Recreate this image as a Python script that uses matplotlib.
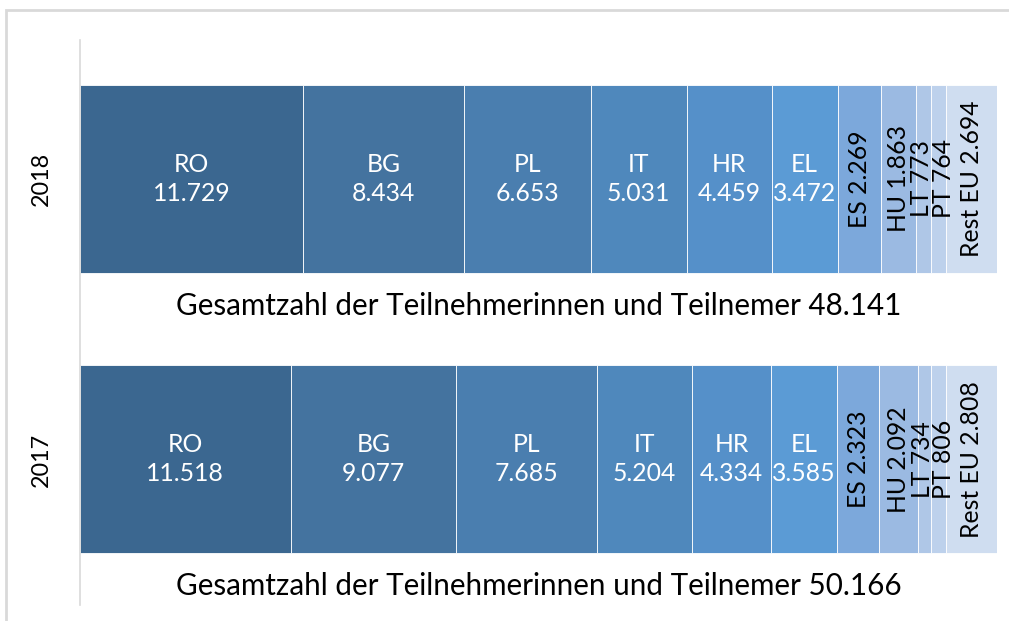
import matplotlib
matplotlib.use("Agg")
import matplotlib.pyplot as plt
from matplotlib.patches import Rectangle
from matplotlib.transforms import offset_copy

years = ["2017", "2018"]
countries = ["RO", "BG", "PL", "IT", "HR", "EL", "ES", "HU", "LT", "PT", "Rest EU"]
values_2017 = [11518, 9077, 7685, 5204, 4334, 3585, 2323, 2092, 734, 806, 2808]
values_2018 = [11729, 8434, 6653, 5031, 4459, 3472, 2269, 1863, 773, 764, 2694]
value_labels_2017 = ["11.518", "9.077", "7.685", "5.204", "4.334", "3.585", "2.323", "2.092", "734", "806", "2.808"]
value_labels_2018 = ["11.729", "8.434", "6.653", "5.031", "4.459", "3.472", "2.269", "1.863", "773", "764", "2.694"]
totals = ["50.166", "48.141"]

colors = ["#3B6790", "#44739F", "#4A7EAF", "#4F88BC", "#5590C9", "#5B9BD5",
          "#7CA8DB", "#9BBAE2", "#AFC7E7", "#BDD1EC", "#CFDDF0"]
n_white = 6
# small horizontal nudges (in points) for crowded rotated labels
label_dx = [0, 0, 0, 0, 0, 0, 0, 0, -1.5, 4, 0]

W, H = 1009, 621
fig = plt.figure(figsize=(W / 100, H / 100), dpi=100)
plt.rcParams['font.family'] = ['Lato', 'DejaVu Sans']

# outer frame
fig.patches.append(Rectangle((6 / W, -0.1), 1.2, (H - 10) / H + 0.1, transform=fig.transFigure,
                             fill=False, edgecolor="#D9D9D9", linewidth=2))

ax_left, ax_right = 80, 997
ax_top, ax_bottom = 40, 605
ax = fig.add_axes([ax_left / W, 1 - ax_bottom / H, (ax_right - ax_left) / W, (ax_bottom - ax_top) / H])

ylow, yhigh = -0.519, 1.4955
ax.set_ylim(ylow, yhigh)
ax.set_xlim(0, 1)
bar_h = 0.67

all_vals = [values_2017, values_2018]
all_labels = [value_labels_2017, value_labels_2018]
for yi, (vals, labs) in enumerate(zip(all_vals, all_labels)):
    total = sum(vals)
    left = 0.0
    for ci, (v, lab) in enumerate(zip(vals, labs)):
        w = v / total
        ax.barh(yi, w, left=left, height=bar_h, color=colors[ci], edgecolor="#FFFFFF",
                linewidth=0.6)
        cx = left + w / 2
        if ci < n_white:
            ax.text(cx, yi, f"{countries[ci]}\n{lab}", ha="center", va="center",
                    color="white", fontsize=17.8, linespacing=1.32)
        else:
            tr = offset_copy(ax.transData, fig=fig, x=label_dx[ci], y=0, units="points")
            ax.text(cx, yi, f"{countries[ci]} {lab}", ha="center", va="center",
                    color="black", fontsize=17.8, rotation=90, transform=tr)
        left += w
    ax.text(0.5, yi - 0.452, f"Gesamtzahl der Teilnehmerinnen und Teilnemer {totals[yi]}",
            ha="center", va="center", fontsize=21.3, color="black")

ax.set_yticks([0, 1])
ax.set_yticklabels(years, rotation=90, va="center", fontsize=16.8)
ax.tick_params(axis="y", length=0, pad=20)
ax.set_xticks([])
for s in ["top", "right", "bottom"]:
    ax.spines[s].set_visible(False)
ax.spines["left"].set_color("#D9D9D9")
ax.spines["left"].set_linewidth(1.2)

fig.savefig("out.png", dpi=100)
